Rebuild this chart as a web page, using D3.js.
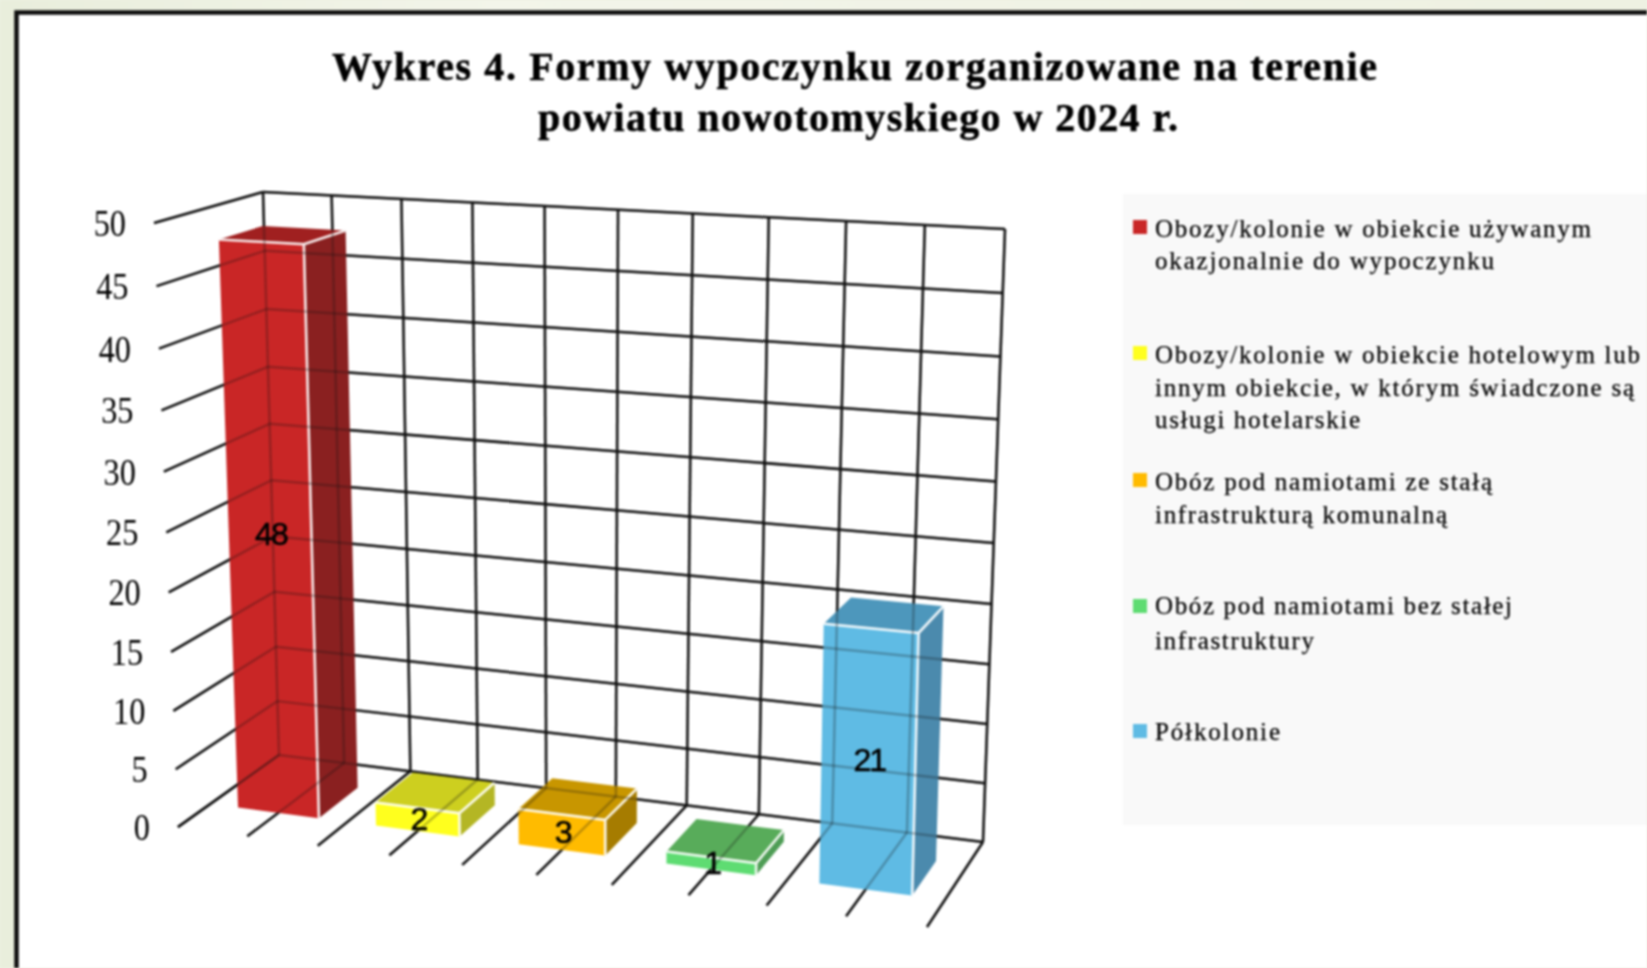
<!DOCTYPE html>
<html><head><meta charset="utf-8">
<script src="https://cdnjs.cloudflare.com/ajax/libs/d3/7.8.5/d3.min.js"></script>
<style>html,body{margin:0;padding:0;overflow:hidden;background:#eef1e2}svg{display:block;filter:blur(0.95px)}</style>
</head><body><svg id="c" width="1647" height="968"></svg>
<script>
const titleLines = ["Wykres 4. Formy wypoczynku zorganizowane na terenie","powiatu nowotomyskiego w 2024 r."];
const categories = ["Obozy/kolonie w obiekcie używanym okazjonalnie do wypoczynku","Obozy/kolonie w obiekcie hotelowym lub innym obiekcie, w którym świadczone są usługi hotelarskie","Obóz pod namiotami ze stałą infrastrukturą komunalną","Obóz pod namiotami bez stałej infrastruktury","Półkolonie"];
const values = [48,2,3,1,21];
const yTicks = [0,5,10,15,20,25,30,35,40,45,50];
const wallDivisions = [0,.1,.2,.3,.4,.5,.6,.7,.8,.9,1];
const frontColors = ["#c92626","#ffff1e","#ffbb00","#5edc72","#5fbbe4"];
const topColors   = ["#a02020","#cdcf1f","#c89600","#58ac5a","#4d97bc"];
const sideColors  = ["#8a2020","#b4b624","#a67c00","#4e9d55","#4b8aad"];
const legendLines = [
 ["Obozy/kolonie w obiekcie używanym","okazjonalnie do wypoczynku"],
 ["Obozy/kolonie w obiekcie hotelowym lub","innym obiekcie, w którym świadczone są","usługi hotelarskie"],
 ["Obóz pod namiotami ze stałą","infrastrukturą komunalną"],
 ["Obóz pod namiotami bez stałej","infrastruktury"],
 ["Półkolonie"]];
const legendLineEnds = [[1591,1494],[1640,1634,1360],[1492,1447],[1512,1314],[1280]];
const legendBaselines = [[237,269],[363,396,428],[490,523],[614,649],[740]];
const legendSwatchY = [220,346,473,599,724];

// Perspective frame of the 3D box (layout)
const frame = {
  backTL:[263,192], backTR:[1005,229], backBL:[279,755], backBR:[983,842],
  frontTL:[154,223], frontTR:[942,266], frontBL:[178,827], frontBR:[927,927]
};
const warp = r => t => t/(t + r*(1-t));
const warpU = warp(1.09), warpV = warp(1.05);
const lerp = (a,b,t)=>[a[0]+(b[0]-a[0])*t, a[1]+(b[1]-a[1])*t];
function project(u,v,w){
  const U=warpU(u), V=warpV(v);
  const back = lerp(lerp(frame.backBL,frame.backBR,U), lerp(frame.backTL,frame.backTR,U), V);
  const front= lerp(lerp(frame.frontBL,frame.frontBR,U), lerp(frame.frontTL,frame.frontTR,U), V);
  return lerp(back,front,w);
}
const yScale = d3.scaleLinear().domain([0,50]).range([0,1]);
const xBand = d3.scaleBand().domain(categories).range([0,1]).paddingInner(.41).paddingOuter(.205);
const depth = d3.scaleLinear().domain([0,1]).range([.27,.68]);
const line = d3.line();
const svg = d3.select("#c");

// page + panel
const defs = svg.append("defs");
const g0 = defs.append("linearGradient").attr("id","bg").attr("x1",0).attr("x2",1).attr("y1",0).attr("y2",0);
g0.append("stop").attr("offset",0).attr("stop-color","#e9eedc");
g0.append("stop").attr("offset",.3).attr("stop-color","#f3f5ea");
g0.append("stop").attr("offset",1).attr("stop-color","#eef1e2");
svg.append("rect").attr("x",-5).attr("y",-5).attr("width",1660).attr("height",980).attr("fill","url(#bg)");
svg.append("rect").attr("x",16.5).attr("y",12.5).attr("width",1700).attr("height",1000)
   .attr("fill","#fff").attr("stroke","#0d0d0d").attr("stroke-width",4.5);

// title
const titleX=[[332,1377],[538,1178]], titleY=[80,131];
svg.selectAll("text.t").data(titleLines).join("text").attr("class","t")
  .attr("x",(d,i)=>titleX[i][0]).attr("y",(d,i)=>titleY[i])
  .attr("textLength",(d,i)=>titleX[i][1]-titleX[i][0]).attr("lengthAdjust","spacing")
  .attr("font-family","Liberation Serif").attr("font-weight","bold").attr("font-size",40)
  .attr("fill","#000").attr("stroke","#000").attr("stroke-width",.5).text(d=>d);

function drawGrid(parent,opacity){
  const g=parent.append("g").attr("fill","none").attr("stroke","#111").attr("stroke-width",2.5).attr("stroke-opacity",opacity);
  // back wall
  g.selectAll("path.v").data(wallDivisions).join("path").attr("class","v").attr("d",u=>line([project(u,0,0),project(u,1,0)]));
  g.selectAll("path.h").data(yTicks).join("path").attr("class","h").attr("d",t=>line([project(0,yScale(t),0),project(1,yScale(t),0)]));
  // left wall
  g.selectAll("path.l").data(yTicks).join("path").attr("class","l").attr("d",t=>line([project(0,yScale(t),1),project(0,yScale(t),0)]));
  // floor
  g.selectAll("path.f").data(wallDivisions).join("path").attr("class","f").attr("d",u=>line([project(u,0,1),project(u,0,0)]));
}
drawGrid(svg,1);

// y tick labels
svg.append("g").selectAll("text").data(yTicks).join("text")
  .attr("x",t=>project(0,yScale(t),1)[0]-28)
  .attr("y",t=>project(0,yScale(t),1)[1]+13)
  .attr("text-anchor","end").attr("font-family","Liberation Serif").attr("font-size",38)
  .attr("fill","#000").style("transform-box","fill-box").style("transform-origin","100% 50%")
  .style("transform","scaleX(.85)").text(d=>d);

// bars
const data = categories.map((c,i)=>({c,i,v:values[i]}));
const bars = svg.append("g").selectAll("g").data(data).join("g");
const poly = pts => line(pts)+"Z";
function corners(d){
  const u0=xBand(d.c), u1=u0+xBand.bandwidth(), w0=depth(0), w1=depth(1), v=yScale(d.v);
  return {u0,u1,w0,w1,v};
}
bars.append("path").attr("fill",d=>topColors[d.i]).attr("d",d=>{const c=corners(d);
  return poly([project(c.u0,c.v,c.w1),project(c.u1,c.v,c.w1),project(c.u1,c.v,c.w0),project(c.u0,c.v,c.w0)]);});
bars.append("path").attr("fill",d=>sideColors[d.i]).attr("d",d=>{const c=corners(d);
  return poly([project(c.u1,0,c.w1),project(c.u1,c.v,c.w1),project(c.u1,c.v,c.w0),project(c.u1,0,c.w0)]);});
bars.append("path").attr("fill",d=>frontColors[d.i]).attr("d",d=>{const c=corners(d);
  return poly([project(c.u0,0,c.w1),project(c.u1,0,c.w1),project(c.u1,c.v,c.w1),project(c.u0,c.v,c.w1)]);});

// grid showing through the translucent bars
drawGrid(svg,.27);

// white highlight edges
bars.append("path").attr("fill","none").attr("stroke","#fff").attr("stroke-opacity",.9).attr("stroke-width",2.6)
  .attr("d",d=>{const c=corners(d);
    return line([project(c.u0,c.v,c.w1),project(c.u1,c.v,c.w1),project(c.u1,0,c.w1)])+line([project(c.u1,c.v,c.w1),project(c.u1,c.v,c.w0)]);});

// value labels
svg.append("g").selectAll("text").data(data).join("text")
  .attr("x",d=>{const c=corners(d);return project((c.u0+c.u1)/2,c.v/2,c.w1)[0]+1;})
  .attr("y",d=>{const c=corners(d);return project((c.u0+c.u1)/2,c.v/2,c.w1)[1]+11;})
  .attr("text-anchor","middle").attr("font-family","Liberation Sans").attr("font-size",32)
  .attr("letter-spacing",-2).attr("fill","#000").attr("stroke","#000").attr("stroke-width",.6).text(d=>d.v);

// legend
svg.append("rect").attr("x",1123).attr("y",194).attr("width",530).attr("height",631).attr("fill","#f9f9f9");
const lg = svg.append("g").selectAll("g").data(categories).join("g");
lg.append("rect").attr("x",1133).attr("y",(d,i)=>legendSwatchY[i]).attr("width",14).attr("height",14).attr("fill",(d,i)=>frontColors[i]);
lg.each(function(d,i){
  d3.select(this).selectAll("text").data(legendLines[i]).join("text")
    .attr("x",1155).attr("y",(s,j)=>legendBaselines[i][j])
    .attr("textLength",(s,j)=>legendLineEnds[i][j]-1155).attr("lengthAdjust","spacing")
    .attr("font-family","Liberation Serif").attr("font-size",25).attr("fill","#000").attr("stroke","#000").attr("stroke-width",.25).text(s=>s);
});
</script></body></html>
